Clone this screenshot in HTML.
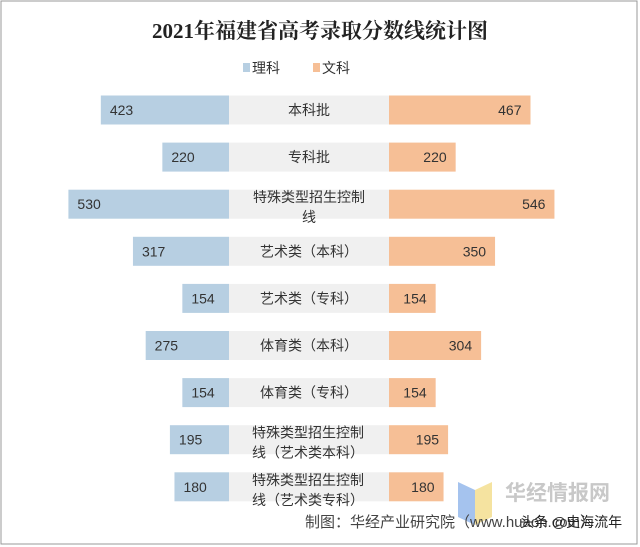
<!DOCTYPE html>
<html><head><meta charset="utf-8"><style>
body{margin:0;background:#fff}
svg{display:block;font-family:"Liberation Sans","Noto Sans CJK SC",sans-serif}
</style></head><body>
<svg id="c" width="640" height="547" viewBox="0 0 640 547">
<rect x="1" y="1" width="636" height="543" fill="#fff" stroke="#999" stroke-width="1"/>
<text x="320" y="38" text-anchor="middle" font-family="Liberation Serif,Noto Serif CJK SC,serif" font-size="21" font-weight="bold" fill="#222">2021年福建省高考录取分数线统计图</text>
<g>
<g><rect x="243" y="63" width="7" height="9" fill="#b7cfe2"/><text x="252" y="73" font-size="14" fill="#333">理科</text></g>
<g><rect x="313" y="63" width="7" height="9" fill="#f6bf96"/><text x="322" y="73" font-size="14" fill="#333">文科</text></g>
</g>
<g id="rows"></g>
<g>
<polygon points="458,482 475,490 475,525 458,517" fill="#8fb4ea" opacity="0.8"/>
<polygon points="475,490 492,482 492,517 475,525" fill="#f2dc88" opacity="0.8"/>
<text x="505" y="500" font-size="21" font-weight="bold" fill="#c8c8c8">华经情报网</text>
<text x="305" y="527" font-size="15" fill="#444">制图：华经产业研究院（www.huaon.com）</text>
<text x="520" y="527" font-size="14" fill="#222">头条 @史海流年</text>
</g>
</svg>
<script>
const categories=[["本科批"],["专科批"],["特殊类型招生控制","线"],["艺术类（本科）"],["艺术类（专科）"],["体育类（本科）"],["体育类（专科）"],["特殊类型招生控制","线（艺术类本科）"],["特殊类型招生控制","线（艺术类专科）"]];
const science=[423,220,530,317,154,275,154,195,180];
const arts=[467,220,546,350,154,304,154,195,180];
const NS="http://www.w3.org/2000/svg";
const g=document.getElementById('rows');
const k=0.303, midL=229, midR=389, y0=110, pitch=47.1, h=29;
function xl(v){return midL-v*k;}
function xr(v){return midR+v*k;}
function mk(tag,a){const e=document.createElementNS(NS,tag);for(const n in a)e.setAttribute(n,a[n]);return e;}
categories.forEach((c,i)=>{
 const cy=y0+i*pitch;
 const L=xl(science[i]), R=xr(arts[i]);
 const band=mk('rect',{x:midL,y:cy-h/2,width:midR-midL,height:h,fill:'#f0f0f0'});
 
 
 g.appendChild(band);
 const b1=mk('rect',{x:L,y:cy-h/2,width:midL-L,height:h,fill:'#b7cfe2'});
 
 
 g.appendChild(b1);
 const b2=mk('rect',{x:midR,y:cy-h/2,width:R-midR,height:h,fill:'#f6bf96'});
 
 
 g.appendChild(b2);
 const t1=mk('text',{x:L+9,y:cy+5,'font-size':14,fill:'#333'});t1.textContent=science[i];
 
 
 g.appendChild(t1);
 const t2=mk('text',{x:R-9,y:cy+5,'font-size':14,fill:'#333','text-anchor':'end'});t2.textContent=arts[i];
 
 
 g.appendChild(t2);
 if(c.length==1){
  const t=mk('text',{x:(midL+midR)/2,y:cy+5,'font-size':14,fill:'#333','text-anchor':'middle'});t.textContent=c[0];
  
  
  g.appendChild(t);
 } else {
  const x=i==2?(midL+midR)/2:252, anc=i==2?'middle':'start';
  c.forEach((s,j)=>{
   const t=mk('text',{x:x,y:cy-2+j*20,'font-size':14,fill:'#333','text-anchor':anc});t.textContent=s;
   
   
   g.appendChild(t);
  });
 }
});
</script>
</body></html>
